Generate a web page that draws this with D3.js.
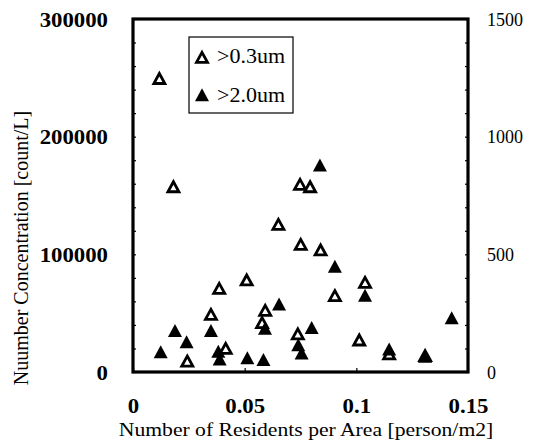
<!DOCTYPE html>
<html>
<head>
<meta charset="utf-8">
<script src="https://cdn.jsdelivr.net/npm/d3@7/dist/d3.min.js"></script>
<style>
  body { margin: 0; background: #fff; }
  svg { display: block; }
</style>
</head>
<body>
<svg id="chart" width="539" height="446"></svg>
<script>
// Particles > 0.3 um  (left axis, count/L)
const fineX = [0.0118, 0.0181, 0.0243, 0.0349, 0.0386, 0.0415, 0.0509, 0.0578, 0.0592, 0.0651,
               0.0738, 0.0748, 0.0751, 0.0793, 0.0840, 0.0904, 0.1013, 0.1039, 0.1147, 0.1308];
const fineY = [248000, 156000, 7900, 47600, 69700, 18700, 76800, 40500, 51000, 124100,
               31000, 158000, 107000, 156000, 102300, 63500, 25800, 74800, 14000, 12500];

// Particles > 2.0 um  (right axis, count/L)
const coarseX = [0.0124, 0.0188, 0.0240, 0.0349, 0.0382, 0.0388, 0.0512, 0.0584, 0.0591, 0.0654,
                 0.0740, 0.0755, 0.0800, 0.0837, 0.0904, 0.1039, 0.1147, 0.1308, 0.1427];
const coarseY = [77, 167, 119, 167, 79, 46, 51, 44, 177, 280,
                 107, 72, 180, 870, 440, 317, 88, 58, 221];

const xTicks = [0, 0.05, 0.1, 0.15];
const xTickLabels = ["0", "0.05", "0.1", "0.15"];
const leftTicks = [0, 100000, 200000, 300000];
const rightTicks = [0, 500, 1000, 1500];
const seriesNames = [">0.3um", ">2.0um"];

const FONT = "'Liberation Serif', 'Times New Roman', Times, serif";

const svg = d3.select("#chart");
const L = 133, R = 468, T = 19, B = 372;

const x = d3.scaleLinear().domain([0, 0.15]).range([L, R]);
const yL = d3.scaleLinear().domain([0, 300000]).range([B, T]);
const yR = d3.scaleLinear().domain([0, 1500]).range([B, T]);

// small inward ticks along the frame
function tickOnly(g) {
  g.select(".domain").remove();
  g.selectAll("text").remove();
  g.selectAll("line").attr("stroke", "#000").attr("stroke-width", 1.2);
}
svg.append("g").attr("transform", `translate(${L},0)`)
  .call(d3.axisLeft(yL).tickValues(d3.range(0, 300001, 20000)).tickSize(-3))
  .call(tickOnly);
svg.append("g").attr("transform", `translate(${R},0)`)
  .call(d3.axisRight(yR).tickValues(d3.range(0, 1501, 100)).tickSize(-3))
  .call(tickOnly);
svg.append("g").attr("transform", `translate(0,${B})`)
  .call(d3.axisBottom(x).tickValues(xTicks).tickSize(-4))
  .call(tickOnly);

// tick labels
const stretch = 1.14;
function labelStyle(sel, size, weight) {
  sel.attr("x", 0).attr("y", 0).attr("dy", null)
    .style("font-family", FONT).style("font-size", size + "px")
    .style("font-weight", weight).attr("fill", "#000");
}
const leftAx = svg.append("g").attr("transform", `translate(${L},0)`)
  .call(d3.axisLeft(yL).tickValues(leftTicks).tickSize(0).tickFormat(d3.format("d")))
  .call(g => g.select(".domain").remove());
leftAx.selectAll("text").call(labelStyle, 20, "bold")
  .attr("transform", `translate(-25,7) scale(${stretch},1)`);

const rightAx = svg.append("g").attr("transform", `translate(${R},0)`)
  .call(d3.axisRight(yR).tickValues(rightTicks).tickSize(0).tickFormat(d3.format("d")))
  .call(g => g.select(".domain").remove());
rightAx.selectAll("text").call(labelStyle, 18, "normal")
  .attr("transform", `translate(19,6)`);

const botAx = svg.append("g").attr("transform", `translate(0,${B})`)
  .call(d3.axisBottom(x).tickValues(xTicks).tickSize(0).tickFormat((d, i) => xTickLabels[i]))
  .call(g => g.select(".domain").remove());
botAx.selectAll("text").call(labelStyle, 20, "bold")
  .attr("transform", `translate(0,41) scale(${stretch},1)`);

// frame
svg.append("rect")
  .attr("x", L).attr("y", T).attr("width", R - L).attr("height", B - T)
  .attr("fill", "none").attr("stroke", "#000").attr("stroke-width", 3.2);

// axis titles
svg.append("text")
  .attr("transform", `translate(306,436) scale(1.14,1)`)
  .attr("text-anchor", "middle")
  .style("font-family", FONT).style("font-size", "19px")
  .text("Number of Residents per Area [person/m2]");
svg.append("text")
  .attr("transform", `translate(28,248) rotate(-90)`)
  .attr("text-anchor", "middle")
  .style("font-family", FONT).style("font-size", "20px")
  .text("Nuumber Concentration [count/L]");

// triangle marker path centred on its centroid
function tri(w, h) {
  return `M0,${-2 * h / 3}L${w / 2},${h / 3}L${-w / 2},${h / 3}Z`;
}
const openTri = tri(11, 10);
const solidTri = tri(14, 13);

const plot = svg.append("g");
plot.selectAll("path.fine")
  .data(d3.zip(fineX, fineY))
  .join("path").attr("class", "fine")
  .attr("d", openTri)
  .attr("transform", d => `translate(${x(d[0])},${yL(d[1])})`)
  .attr("fill", "#fff").attr("stroke", "#000").attr("stroke-width", 2.8);
plot.selectAll("path.coarse")
  .data(d3.zip(coarseX, coarseY))
  .join("path").attr("class", "coarse")
  .attr("d", solidTri)
  .attr("transform", d => `translate(${x(d[0])},${yR(d[1])})`)
  .attr("fill", "#000");

// legend
const lg = svg.append("g");
lg.append("rect").attr("x", 189).attr("y", 37).attr("width", 104).attr("height", 76)
  .attr("fill", "#fff").attr("stroke", "#000").attr("stroke-width", 1.2);
lg.append("path").attr("d", openTri).attr("transform", "translate(202,59)")
  .attr("fill", "#fff").attr("stroke", "#000").attr("stroke-width", 2.8);
lg.append("path").attr("d", solidTri).attr("transform", "translate(202,97)")
  .attr("fill", "#000");
lg.selectAll("text.lbl").data(seriesNames).join("text").attr("class", "lbl")
  .attr("transform", (d, i) => `translate(217,${63 + i * 39}) scale(1.1,1)`)
  .style("font-family", FONT).style("font-size", "20px")
  .text(d => d);
</script>
</body>
</html>
